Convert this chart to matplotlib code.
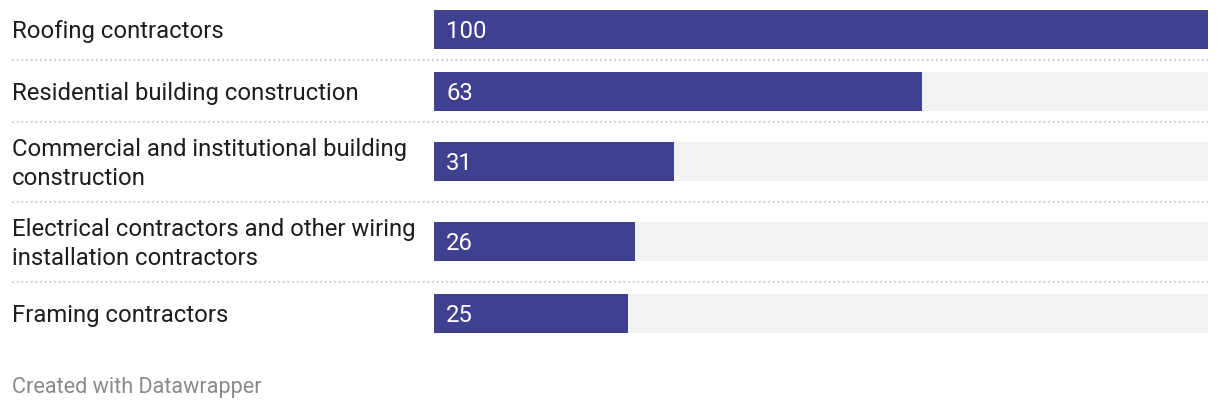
import matplotlib
matplotlib.use("Agg")
import matplotlib.pyplot as plt

categories = [
    "Roofing contractors",
    "Residential building construction",
    "Commercial and institutional building\nconstruction",
    "Electrical contractors and other wiring\ninstallation contractors",
    "Framing contractors",
]
values = [100, 63, 31, 26, 25]
max_value = 100

W, H = 1220, 410
fig = plt.figure(figsize=(W / 100, H / 100), dpi=100)
plt.rcParams['font.family'] = ['Roboto', 'DejaVu Sans']

x0, x1 = 434, 1208
bax = fig.add_axes([x0 / W, 0, (x1 - x0) / W, 1])
bax.set_xlim(0, max_value)
bax.set_ylim(H, 0)
bax.axis("off")

# full-figure overlay axes in pixel coordinates
bg = fig.add_axes([0, 0, 1, 1])
bg.set_xlim(0, W)
bg.set_ylim(H, 0)
bg.axis("off")
bg.patch.set_alpha(0)

centers = [30, 92, 162, 242, 314]
seps = [61, 123, 203, 283]
bar_h = 39
bar_color = "#404090"

bax.barh(centers, [max_value] * len(values), height=bar_h, color="#f2f2f2", linewidth=0)
bax.barh(centers, values, height=bar_h, color=bar_color, linewidth=0)

fs = 17.2
for c, v, lab in zip(centers, values, categories):
    bg.text(12, c + 1.8, lab, fontsize=fs, color="#1d1d1d", va="center", ha="left",
            linespacing=1.34)
    bg.text(x0 + 12, c + 1.5, str(v), fontsize=fs, color="white", va="center", ha="left")

for s in seps:
    bg.plot([12, 1208], [s, s], color="#cccccc", linewidth=1.2, linestyle=(0, (1.2, 1.6)))

bg.text(12, 388, "Created with Datawrapper", fontsize=15.6, color="#8a8a8a", va="center", ha="left")

fig.savefig("out.png", dpi=100)
